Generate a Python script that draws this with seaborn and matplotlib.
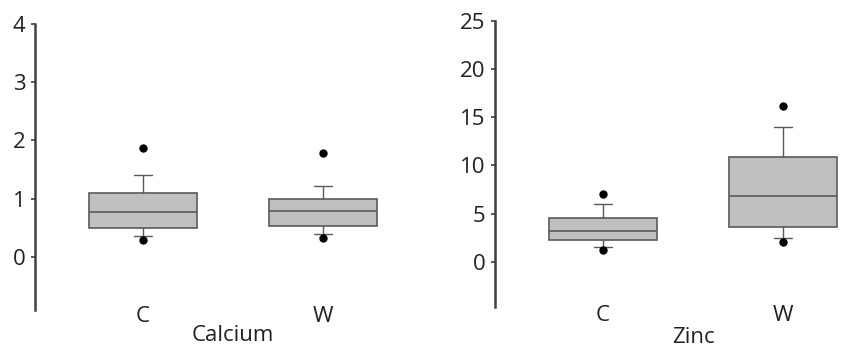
import matplotlib
matplotlib.use('Agg')
import matplotlib.pyplot as plt
import seaborn as sns

# Box statistics
groups = ['C', 'W']

ca_whislo = [0.36, 0.40]
ca_q1 = [0.50, 0.53]
ca_med = [0.77, 0.79]
ca_q3 = [1.10, 1.00]
ca_whishi = [1.41, 1.22]
ca_fliers = [[0.29, 1.87], [0.33, 1.78]]

zn_whislo = [1.55, 2.5]
zn_q1 = [2.28, 3.6]
zn_med = [3.2, 6.8]
zn_q3 = [4.56, 10.9]
zn_whishi = [6.0, 14.0]
zn_fliers = [[1.2, 7.0], [2.1, 16.2]]

ca_ticks = [0, 1, 2, 3, 4]
zn_ticks = [0, 5, 10, 15, 20, 25]

sns.set_style('white')
plt.rcParams['font.family'] = ['Open Sans', 'DejaVu Sans']


def make_stats(whislo, q1, med, q3, whishi, fliers):
    return [dict(label=g, whislo=a, q1=b, med=c, q3=d, whishi=e, fliers=f)
            for g, a, b, c, d, e, f in zip(groups, whislo, q1, med, q3, whishi, fliers)]


def draw_panel(ax, stats, ticks, ylim, title, xpad, label_y):
    ax.bxp(stats, positions=[0, 1], widths=0.6, capwidths=0.1, patch_artist=True,
           boxprops=dict(facecolor='#c0c0c0', edgecolor='#5a5a5a', linewidth=1.2),
           medianprops=dict(color='#5a5a5a', linewidth=1.2),
           whiskerprops=dict(color='#5a5a5a', linewidth=1.0),
           capprops=dict(color='#5a5a5a', linewidth=1.0),
           flierprops=dict(marker='o', markerfacecolor='black', markeredgecolor='black', markersize=5))
    ax.set_xlim(-0.6, 1.35)
    ax.set_ylim(*ylim)
    ax.set_yticks(ticks)
    ax.set_xticks([0, 1])
    ax.set_xticklabels(groups)
    sns.despine(ax=ax, top=True, right=True, bottom=True)
    ax.spines['left'].set_color('#404040')
    ax.spines['left'].set_linewidth(1.8)
    ax.tick_params(axis='y', left=True, length=3, width=1.2, color='#404040',
                   labelsize=16, labelcolor='#222222', pad=4)
    ax.tick_params(axis='x', bottom=False, labelsize=16, labelcolor='#222222', pad=xpad)
    ax.set_xlabel(title, fontsize=16, color='#222222')
    ax.xaxis.set_label_coords(0.564, label_y)
    ax.set_facecolor('none')


fig = plt.figure(figsize=(8.51, 3.59), dpi=100)
ax_left = fig.add_axes([35 / 851, 49 / 359, 351 / 851, 286 / 359])
ax_right = fig.add_axes([495 / 851, 52 / 359, 351 / 851, 286 / 359])

draw_panel(ax_left, make_stats(ca_whislo, ca_q1, ca_med, ca_q3, ca_whishi, ca_fliers),
           ca_ticks, (-0.91, 4), 'Calcium', -6.5, -0.052)
draw_panel(ax_right, make_stats(zn_whislo, zn_q1, zn_med, zn_q3, zn_whishi, zn_fliers),
           zn_ticks, (-4.7, 25), 'Zinc', -5.0, -0.07)

fig.savefig('out.png', dpi=100)
